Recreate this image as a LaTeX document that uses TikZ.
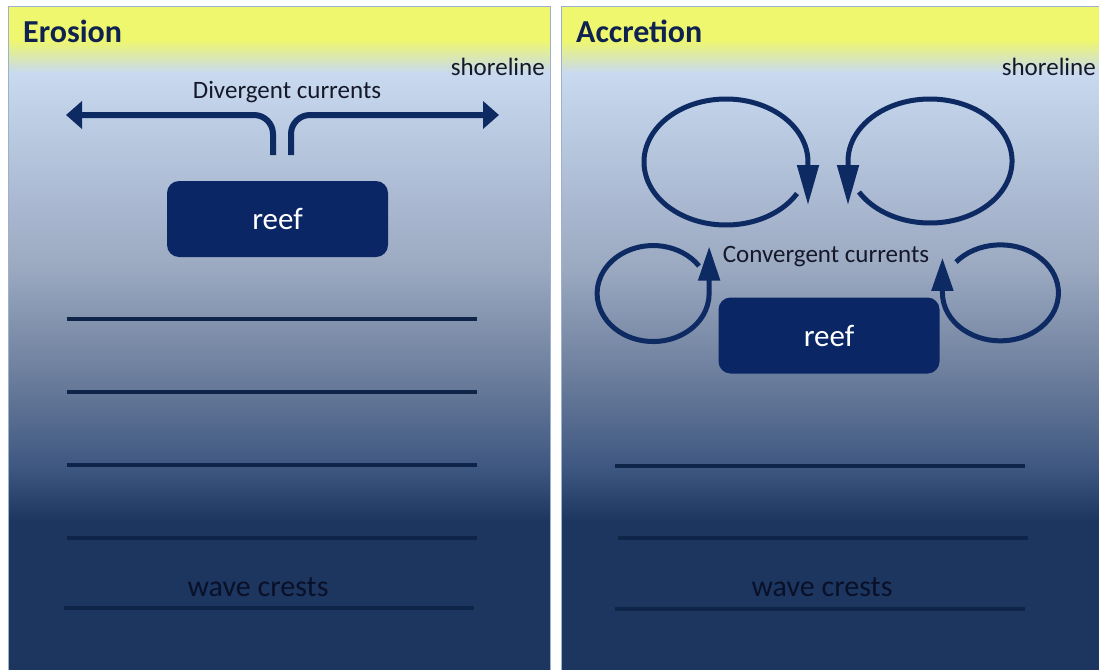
\documentclass[tikz,border=0pt]{standalone}
\usepackage{fontspec}
\setmainfont{Carlito}
\usetikzlibrary{arrows.meta}

\definecolor{sunyellow}{HTML}{EEF76E}
\definecolor{skyblue}{HTML}{C8D9F0}
\definecolor{haze}{HTML}{9AA8C0}
\definecolor{dusk}{HTML}{6E809E}
\definecolor{deepish}{HTML}{3D5680}
\definecolor{deepsea}{HTML}{1C3660}
\definecolor{rimblue}{HTML}{9DB0CC}
\definecolor{crestnavy}{HTML}{0E2448}
\definecolor{reefnavy}{HTML}{0A2665}
\definecolor{flownavy}{HTML}{0D2A62}
\definecolor{titlenavy}{HTML}{0F2250}
\definecolor{inkdark}{HTML}{15182A}
\definecolor{crestink}{HTML}{0A1028}

\begin{document}
\begin{tikzpicture}[x = 1pt, y = 1pt,
  crest/.style = {line width = 4pt, color = crestnavy},
  reefbox/.style = {fill = reefnavy, rounded corners = 12pt, minimum width = 221pt,
    minimum height = 76pt, text = white, font = \fontsize{31}{31}\selectfont},
  current/.style = {line width = 6pt, color = flownavy, rounded corners = 19pt,
    -{Triangle[length = 16pt, width = 27pt]}},
  eddy/.style = {line width = 5pt, color = flownavy},
  title/.style = {font = \fontsize{32}{32}\selectfont\bfseries, text = titlenavy, inner sep = 0pt},
  shore/.style = {font = \fontsize{25}{25}\selectfont, text = inkdark, inner sep = 0pt},
  flowtext/.style = {font = \fontsize{25}{25}\selectfont, text = inkdark, inner sep = 0pt},
  crestlabel/.style = {font = \fontsize{30}{30}\selectfont, text = crestink, inner sep = 0pt}]
\useasboundingbox (0, 0) rectangle (1099, -669);

% water panels
\foreach \xa/\xb in {8/550, 561/1104} {
  \fill[sunyellow] (\xa, -7) rectangle (\xb, -41);
  \shade[top color = sunyellow, bottom color = skyblue] (\xa, -40) rectangle (\xb, -73);
  \shade[top color = skyblue, bottom color = haze] (\xa, -72) rectangle (\xb, -271);
  \shade[top color = haze, bottom color = dusk] (\xa, -270) rectangle (\xb, -371);
  \shade[top color = dusk, bottom color = deepish] (\xa, -370) rectangle (\xb, -471);
  \shade[top color = deepish, bottom color = deepsea] (\xa, -470) rectangle (\xb, -521);
  \fill[deepsea] (\xa, -520) rectangle (\xb, -680);
  \draw[rimblue, line width = 1pt] (\xa, -680) |- (\xb, -7) -- (\xb, -680);
}

% erosion panel
\node[title, anchor = base west] (erosion) at (23, -43) {Erosion};
\node[shore, anchor = base east] (shoreW) at (545, -75) {shoreline};
\node[flowtext, anchor = base] (divergent) at (287, -98) {Divergent currents};
\node[reefbox] (reefW) at (277.5, -219) {reef};
\coordinate (stubW) at (273, -155);
\coordinate (stubE) at (291, -155);
\coordinate (tipW) at (66, -115);
\coordinate (tipE) at (499, -115);
\draw[current] (stubW) |- (tipW);
\draw[current] (stubE) |- (tipE);
\draw[crest] (67, -319) -- (477, -319);
\draw[crest] (67, -392) -- (477, -392);
\draw[crest] (67, -465) -- (477, -465);
\draw[crest] (67, -538) -- (477, -538);
\draw[crest] (64, -608) -- (474, -608);
\node[crestlabel, anchor = base] (crestsW) at (258, -596) {wave crests};

% accretion panel
\node[title, anchor = base west] (accretion) at (576, -43) {Accretion};
\node[shore, anchor = base east] (shoreE) at (1096, -75) {shoreline};
\node[flowtext, anchor = base] (convergent) at (826, -262) {Convergent currents};
\node[reefbox] (reefE) at (829, -335.5) {reef};
\coordinate (eddyNW) at (797, -193.5);
\coordinate (eddyNE) at (859, -192);
\coordinate (eddySW) at (699, -266);
\coordinate (eddySE) at (956, -262);
\draw[eddy, -{Triangle[length = 40pt, width = 21pt]}] (eddyNW)
  arc[start angle = -30, end angle = -360, x radius = 82, y radius = 63] -- ++(0, -43);
\draw[eddy, -{Triangle[length = 40pt, width = 21pt]}] (eddyNE)
  arc[start angle = 210, end angle = 540, x radius = 82, y radius = 62] -- ++(0, -44);
\draw[eddy, -{Triangle[length = 34pt, width = 21pt]}] (eddySW)
  arc[start angle = 35, end angle = 360, x radius = 56, y radius = 48] -- ++(0, 47);
\draw[eddy, -{Triangle[length = 33pt, width = 21pt]}] (eddySE)
  arc[start angle = 140, end angle = -180, x radius = 58, y radius = 48] -- ++(0, 35);
\draw[crest] (615, -466) -- (1025, -466);
\draw[crest] (618, -538) -- (1028, -538);
\draw[crest] (615, -609) -- (1025, -609);
\node[crestlabel, anchor = base] (crestsE) at (822, -596) {wave crests};
\end{tikzpicture}
\end{document}
